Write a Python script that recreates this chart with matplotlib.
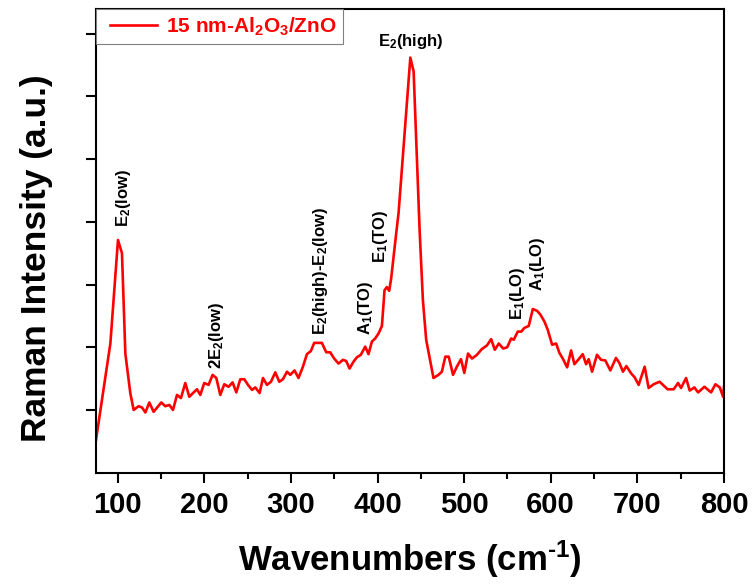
import numpy as np
import matplotlib
matplotlib.use('Agg')
import matplotlib.pyplot as plt
from matplotlib.lines import Line2D
from matplotlib.legend_handler import HandlerLine2D

# fonts - arial bold look
plt.rcParams['font.family'] = ['Liberation Sans', 'DejaVu Sans']
plt.rcParams['font.weight'] = 'bold'
plt.rcParams['mathtext.fontset'] = 'custom'
plt.rcParams['mathtext.rm'] = 'Liberation Sans:bold'
plt.rcParams['mathtext.it'] = 'Liberation Sans:bold'
plt.rcParams['mathtext.bf'] = 'Liberation Sans:bold'
plt.rcParams['mathtext.default'] = 'rm'

# spectrum
wavenumber = [75, 91.6, 100.4, 105, 108.9, 114.6, 118.5, 124.2, 128.1, 132, 136.6, 141.5,
              150.4, 155, 159.7, 163.9, 168.5, 173.1, 178.1, 182.7, 187, 191.6, 195.4,
              200, 205, 209.6, 213.9, 218.5, 223.1, 228.1, 232.7, 237, 241.6, 246.2,
              250.5, 255.1, 258.9, 263.9, 267.8, 272.4, 277, 282, 286.6, 290.8, 295.5,
              299.3, 304.2, 308.8, 313.9, 318.5, 323.1, 326.9, 335.8, 340.8, 345.4, 350,
              355, 360.1, 363.9, 367.7, 372.3, 376.2, 380.8, 385.8, 389.6, 393.5, 397.3,
              401.2, 405.1, 408.1, 410.8, 413.5, 415.8, 418.5, 421.6, 424.3, 437.9, 441.7,
              448.6, 452.4, 456.2, 464.6, 470.4, 474.3, 478.3, 482.2, 487.2, 491.6, 496.4,
              500.2, 504.5, 509.1, 514.8, 520.4, 526.4, 531.2, 535.4, 540, 545.1, 549.7,
              554.3, 557.3, 561.9, 565.9, 569.7, 574.6, 579.3, 584.3, 588.1, 592.7, 596.5,
              601.6, 606.2, 610, 614.3, 618.9, 623.5, 627.3, 632.3, 636.9, 640.8, 643.8,
              647.7, 653.4, 658, 663, 668.8, 675.3, 679.2, 683.4, 687.3, 692.7, 696.9,
              701.5, 708.4, 713, 718.8, 725.7, 734.9, 741.9, 747, 750.4, 756.2, 760.4,
              765.8, 770.1, 777.4, 785.1, 790.1, 795.1, 799, 800]
intensity = [520, 2060, 3710, 3500, 1900, 1270, 1000, 1060, 1040, 960, 1120, 970,
             1120, 1060, 1080, 1000, 1240, 1190, 1430, 1210, 1270, 1330, 1240,
             1430, 1400, 1560, 1510, 1240, 1410, 1370, 1440, 1280, 1490, 1490,
             1400, 1320, 1360, 1270, 1510, 1400, 1450, 1600, 1450, 1490, 1610,
             1560, 1630, 1510, 1690, 1890, 1940, 2070, 2070, 1920, 1920, 1820,
             1740, 1800, 1780, 1660, 1770, 1840, 1880, 2010, 1890, 2090, 2140,
             2220, 2340, 2910, 2960, 2900, 3100, 3440, 3820, 4140, 6620, 6400,
             3870, 2750, 2120, 1510, 1560, 1610, 1850, 1850, 1560, 1690, 1810,
             1590, 1900, 1820, 1880, 1970, 2030, 2130, 1960, 2060, 1980, 2000,
             2140, 2120, 2250, 2250, 2310, 2340, 2610, 2580, 2520, 2410, 2280,
             2040, 2060, 1910, 1810, 1680, 1950, 1730, 1810, 1890, 1730, 1810,
             1610, 1880, 1800, 1790, 1630, 1830, 1750, 1610, 1700, 1585, 1520,
             1400, 1690, 1350, 1410, 1450, 1330, 1330, 1430, 1350, 1510, 1310,
             1360, 1280, 1370, 1280, 1410, 1360, 1210, 1370]

# peak assignments (text, x position, y position of the label bottom, rotation)
peak_names = ['E$_2$(low)', '2E$_2$(low)', 'E$_2$(high)-E$_2$(low)', 'A$_1$(TO)',
              'E$_1$(TO)', 'E$_2$(high)', 'E$_1$(LO)', 'A$_1$(LO)']
peak_x = [107, 214.7, 333.9, 385.8, 403.7, 438, 561.8, 584.6]
peak_y = [3920, 1660, 2200, 2200, 3340, 6730, 2440, 2890]
peak_rot = [90, 90, 90, 90, 90, 0, 90, 90]

fig = plt.figure(figsize=(7.54, 5.86), dpi=100)
ax = fig.add_axes([0.1273, 0.1934, 0.8329, 0.7907])

ax.plot(wavenumber, intensity, color='red', lw=1.9, label='15 nm-Al$_2$O$_3$/ZnO')

for name, px, py, rot in zip(peak_names, peak_x, peak_y, peak_rot):
    ax.text(px, py, name, rotation=rot, ha='center', va='bottom', fontsize=12,
            fontweight='bold', color='black')

ax.set_xlim(75, 800)
ax.set_ylim(0, 7390)
ax.set_xticks(np.arange(100, 801, 100))
ax.set_xticks(np.arange(150, 800, 100), minor=True)
ax.set_yticks(np.arange(1000, 7001, 1000))
ax.set_yticklabels([])
ax.tick_params(axis='both', which='major', direction='out', length=7, width=1.5,
               labelsize=21, pad=6)
ax.tick_params(axis='x', which='minor', direction='out', length=4, width=1.5)
for sp in ax.spines.values():
    sp.set_linewidth(1.5)

ax.set_xlabel(r'Wavenumbers (cm$^{\text{-}1}$)', fontsize=25, fontweight='bold', labelpad=14)
ax.set_ylabel('Raman Intensity (a.u.)', fontsize=25.5, fontweight='bold')
ax.yaxis.set_label_coords(-0.069, 0.463)

# line in legend inset from the left edge like the original
leg = ax.legend(loc='upper left', fontsize=15, frameon=True, fancybox=False,
                framealpha=1, edgecolor='gray', borderaxespad=0, handlelength=3.0,
                handletextpad=0.08, labelcolor='red', borderpad=0.3,
                handler_map={Line2D: HandlerLine2D(numpoints=2, marker_pad=0.37)})
leg.get_frame().set_linewidth(0.8)
for t in leg.get_texts():
    t.set_fontweight('bold')

plt.savefig('out.png', dpi=100)
